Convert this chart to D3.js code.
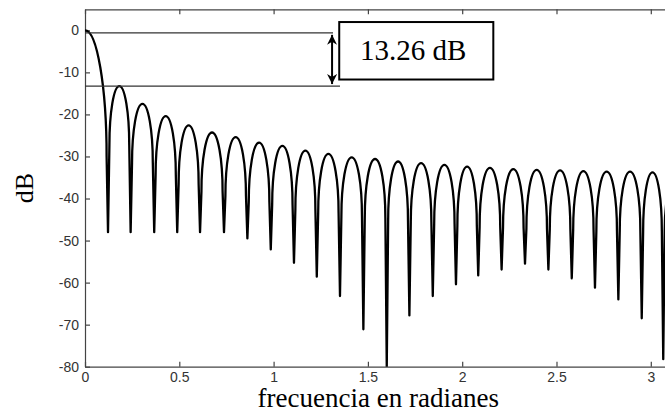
<!DOCTYPE html>
<html>
<head>
<meta charset="utf-8">
<title>Ventana rectangular</title>
<script src="https://cdn.jsdelivr.net/npm/d3@7"></script>
<style>
body { margin: 0; background: #fff; }
svg { display: block; }
.axis text { font-family: "Liberation Sans", Arial, sans-serif; font-size: 14px; fill: #333; }
.axis path, .axis line { stroke: #444; stroke-width: 1.2px; }
.serif { font-family: "Liberation Serif", "Times New Roman", serif; fill: #000; }
</style>
</head>
<body>
<svg id="chart" width="665" height="413"></svg>
<script>

// nulls of the spectrum (rad) and how deep each one goes (dB)
var nullFreq = [0.122, 0.242, 0.367, 0.489, 0.610, 0.737, 0.861, 0.985, 1.108, 1.229,
                1.352, 1.476, 1.600, 1.720, 1.844, 1.967, 2.085, 2.209, 2.333, 2.457,
                2.581, 2.704, 2.828, 2.952, 3.066];
var nullDepth = [-48, -48, -48, -48, -48, -48, -49.5, -52.1, -55.3, -58.6,
                 -63.2, -71.1, -80, -67.8, -63.2, -60.4, -58.3, -56.9, -55.5, -56.9,
                 -59, -61.2, -64, -68.5, -78.2];
// side lobe maxima (dB), one per gap between nulls
var lobePeak = [-13.26, -17.5, -20.4, -22.6, -24.3, -25.4, -26.7, -27.5, -28.6, -29.4,
                -30.2, -30.6, -31.2, -31.6, -32.0, -32.4, -32.7, -33.0, -33.2, -33.3,
                -33.5, -33.6, -33.6, -33.8];
var mainPeak = 0;
var endPeak = -34.0;   // level at w = pi

var xTicks = [0, 0.5, 1, 1.5, 2, 2.5, 3];
var xTickLabels = ["0", "0.5", "1", "1.5", "2", "2.5", "3"];
var yTicks = [0, -10, -20, -30, -40, -50, -60, -70, -80];
var yTickLabels = ["0", "-10", "-20", "-30", "-40", "-50", "-60", "-70", "-80"];

var rippleText = "13.26 dB";
var rippleTop = -0.6, rippleBottom = -13.26;

var svg = d3.select("#chart");

var x = d3.scaleLinear().domain([0, Math.PI]).range([85, 677.5]);
var y = d3.scaleLinear().domain([-80, 5]).range([366.7, 9.3]);

// frame + ticks (matlab style, ticks pointing in)
svg.append("g").attr("class", "axis")
  .attr("transform", "translate(0," + y(-80) + ")")
  .call(d3.axisBottom(x).tickValues(xTicks).tickSizeInner(-5).tickSizeOuter(0).tickPadding(5)
    .tickFormat(function(d, i) { return xTickLabels[i]; }));

svg.append("g").attr("class", "axis")
  .attr("transform", "translate(0," + y(5) + ")")
  .call(d3.axisTop(x).tickValues(xTicks).tickSizeInner(-5).tickSizeOuter(0).tickFormat(""));

svg.append("g").attr("class", "axis")
  .attr("transform", "translate(" + x(0) + ",0)")
  .call(d3.axisLeft(y).tickValues(yTicks).tickSizeInner(-5).tickSizeOuter(0).tickPadding(6)
    .tickFormat(function(d, i) { return yTickLabels[i]; }));

svg.selectAll(".axis .tick text").attr("fill", "#333");

svg.append("clipPath").attr("id", "plotclip")
  .append("rect")
  .attr("x", x(0)).attr("y", y(5))
  .attr("width", x(Math.PI) - x(0)).attr("height", y(-80) - y(5));

// the response curve, lobe by lobe
var K = 0.5523;
var off = 1.4;
var mainDrop = 30, sideDrop = 14;

function arcDown(p, x0, y0, x1, y1) {
  p.bezierCurveTo(x0 + K * (x1 - x0), y0, x1, y1 - K * (y1 - y0), x1, y1);
}
function arcUp(p, x0, y0, x1, y1) {
  p.bezierCurveTo(x0, y0 - K * (y0 - y1), x1 - K * (x1 - x0), y1, x1, y1);
}

function buildCurve() {
  var p = d3.path();
  p.moveTo(x(0), y(mainPeak));
  arcDown(p, x(0), y(mainPeak), x(nullFreq[0]) - off, y(mainPeak - mainDrop));
  for (var i = 0; i < nullFreq.length; i++) {
    p.lineTo(x(nullFreq[i]), y(nullDepth[i]));
    var xa = x(nullFreq[i]) + off;
    if (i < lobePeak.length) {
      var xb = x(nullFreq[i + 1]) - off;
      var xm = (x(nullFreq[i]) + x(nullFreq[i + 1])) / 2;
      var yPeak = y(lobePeak[i]), yFoot = y(lobePeak[i] - sideDrop);
      p.lineTo(xa, yFoot);
      arcUp(p, xa, yFoot, xm, yPeak);
      arcDown(p, xm, yPeak, xb, yFoot);
    } else {
      var yEnd = y(endPeak - sideDrop);
      p.lineTo(xa, yEnd);
      arcUp(p, xa, yEnd, x(Math.PI), y(endPeak));
    }
  }
  return p.toString();
}

svg.append("path")
  .attr("clip-path", "url(#plotclip)")
  .attr("d", buildCurve())
  .attr("fill", "none")
  .attr("stroke", "#000")
  .attr("stroke-width", 2.3)
  .attr("stroke-linejoin", "round");

// annotation: main lobe vs first side lobe
svg.append("line")
  .attr("x1", x(0)).attr("x2", x(1.315))
  .attr("y1", y(rippleTop)).attr("y2", y(rippleTop))
  .attr("stroke", "#333").attr("stroke-width", 1.3);
svg.append("line")
  .attr("x1", x(0)).attr("x2", x(1.352))
  .attr("y1", y(rippleBottom)).attr("y2", y(rippleBottom))
  .attr("stroke", "#333").attr("stroke-width", 1.3);

svg.append("defs").append("marker")
  .attr("id", "head")
  .attr("viewBox", "0 0 10 10")
  .attr("refX", 10).attr("refY", 5)
  .attr("markerUnits", "userSpaceOnUse")
  .attr("markerWidth", 12).attr("markerHeight", 10)
  .attr("orient", "auto-start-reverse")
  .append("path")
  .attr("d", "M0,0 L10,5 L0,10 L3,5 z")
  .attr("fill", "#000");

svg.append("line")
  .attr("x1", x(1.31)).attr("x2", x(1.31))
  .attr("y1", y(rippleTop) + 2).attr("y2", y(rippleBottom) - 2)
  .attr("stroke", "#000").attr("stroke-width", 2)
  .attr("marker-start", "url(#head)")
  .attr("marker-end", "url(#head)");

svg.append("rect")
  .attr("x", x(1.348)).attr("y", y(1.97))
  .attr("width", x(2.165) - x(1.348)).attr("height", y(-11.7) - y(1.97))
  .attr("fill", "#fff").attr("stroke", "#000").attr("stroke-width", 2);

svg.append("text").attr("class", "serif")
  .attr("x", (x(1.348) + x(2.165)) / 2 - 3).attr("y", y(-7.1))
  .attr("text-anchor", "middle")
  .attr("font-size", 29)
  .text(rippleText);

// axis titles
svg.append("text").attr("class", "serif")
  .attr("x", (x(0) + x(Math.PI)) / 2 - 3).attr("y", 407)
  .attr("text-anchor", "middle")
  .attr("font-size", 27)
  .text("frecuencia en radianes");

svg.append("text").attr("class", "serif")
  .attr("transform", "translate(33," + (y(-37.5)) + ") rotate(-90)")
  .attr("text-anchor", "middle")
  .attr("font-size", 26)
  .text("dB");

</script>
</body>
</html>
